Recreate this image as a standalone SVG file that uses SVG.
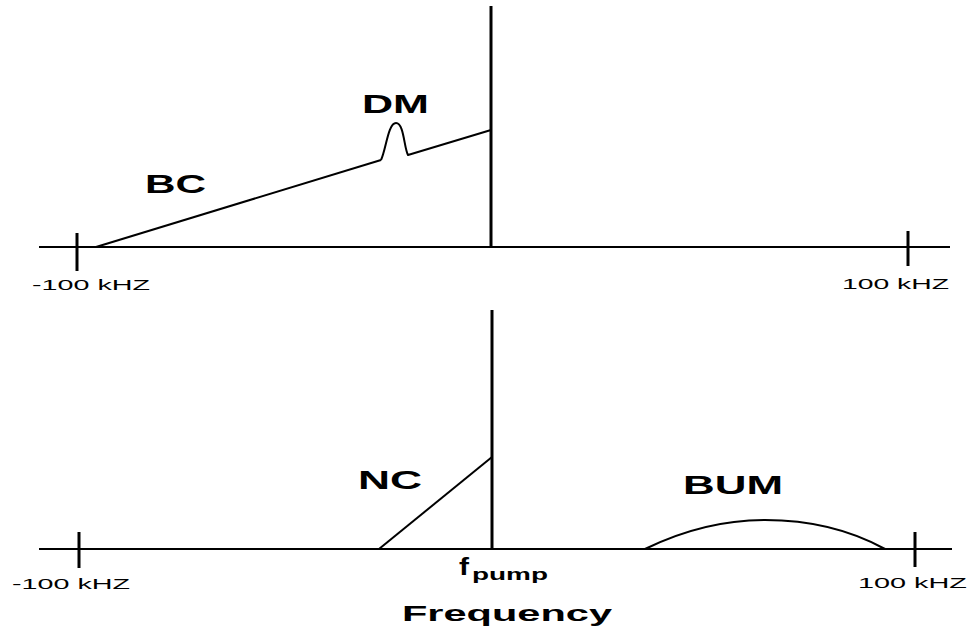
<svg xmlns="http://www.w3.org/2000/svg" width="972" height="634" viewBox="0 0 972 634">
<style>
.ax{stroke:#000;stroke-width:2;fill:none}
.tk{stroke:#000;stroke-width:3;fill:none}
.vl{stroke:#000;stroke-width:3;fill:none}
.cv{stroke:#000;stroke-width:2;fill:none;stroke-linejoin:round}
.lab{font-family:"Liberation Sans",Arial,sans-serif;font-weight:bold;font-size:25px;fill:#000}
.ax-t{font-family:"Liberation Sans",Arial,sans-serif;font-size:15.5px;fill:#000}
</style>
<rect width="972" height="634" fill="#fff"/>
<g id="connectors">
<line class="ax" x1="39" y1="247" x2="950" y2="247"/>
<line class="tk" x1="77" y1="233" x2="77" y2="271"/>
<line class="tk" x1="908" y1="231" x2="908" y2="266"/>
<line class="vl" x1="491" y1="6" x2="491" y2="247"/>
<line class="ax" x1="39" y1="549" x2="952" y2="549"/>
<line class="tk" x1="79" y1="532" x2="79" y2="568"/>
<line class="tk" x1="915" y1="532" x2="915" y2="567"/>
<line class="vl" x1="492" y1="310" x2="492" y2="549"/>
</g>
<g id="BC">
<path class="cv" d="M96,247 L381,160"/>
<text class="lab" x="145" y="193" textLength="61" lengthAdjust="spacingAndGlyphs">BC</text>
</g>
<g id="DM">
<path class="cv" d="M381,160 C386,150 388,123 396,123 C404,123 404,148 408,155 L491,130"/>
<text class="lab" x="362" y="113" textLength="67" lengthAdjust="spacingAndGlyphs">DM</text>
</g>
<g id="NC">
<path class="cv" d="M379,549 L492,457"/>
<text class="lab" x="358" y="489" textLength="64" lengthAdjust="spacingAndGlyphs">NC</text>
</g>
<g id="BUM">
<path class="cv" d="M645,549 C690,527 730,520 765,520 C805,520 845,527 885,549"/>
<text class="lab" x="683" y="494" textLength="100" lengthAdjust="spacingAndGlyphs">BUM</text>
</g>
<g id="axis-labels">
<text class="ax-t" x="32" y="290" textLength="118" lengthAdjust="spacingAndGlyphs">-100 kHZ</text>
<text class="ax-t" x="842" y="289" textLength="107" lengthAdjust="spacingAndGlyphs">100 kHZ</text>
<text class="ax-t" x="12" y="589" textLength="118" lengthAdjust="spacingAndGlyphs">-100 kHZ</text>
<text class="ax-t" x="858" y="588" textLength="109" lengthAdjust="spacingAndGlyphs">100 kHZ</text>
</g>
<g id="fpump">
<text class="lab" x="459" y="575" style="font-size:23px" textLength="10" lengthAdjust="spacingAndGlyphs">f</text>
<text class="lab" x="472" y="580" style="font-size:17px" textLength="76" lengthAdjust="spacingAndGlyphs">pump</text>
</g>
<g id="frequency">
<text class="lab" x="402" y="621" style="font-size:22.5px" textLength="210" lengthAdjust="spacingAndGlyphs">Frequency</text>
</g>
</svg>
